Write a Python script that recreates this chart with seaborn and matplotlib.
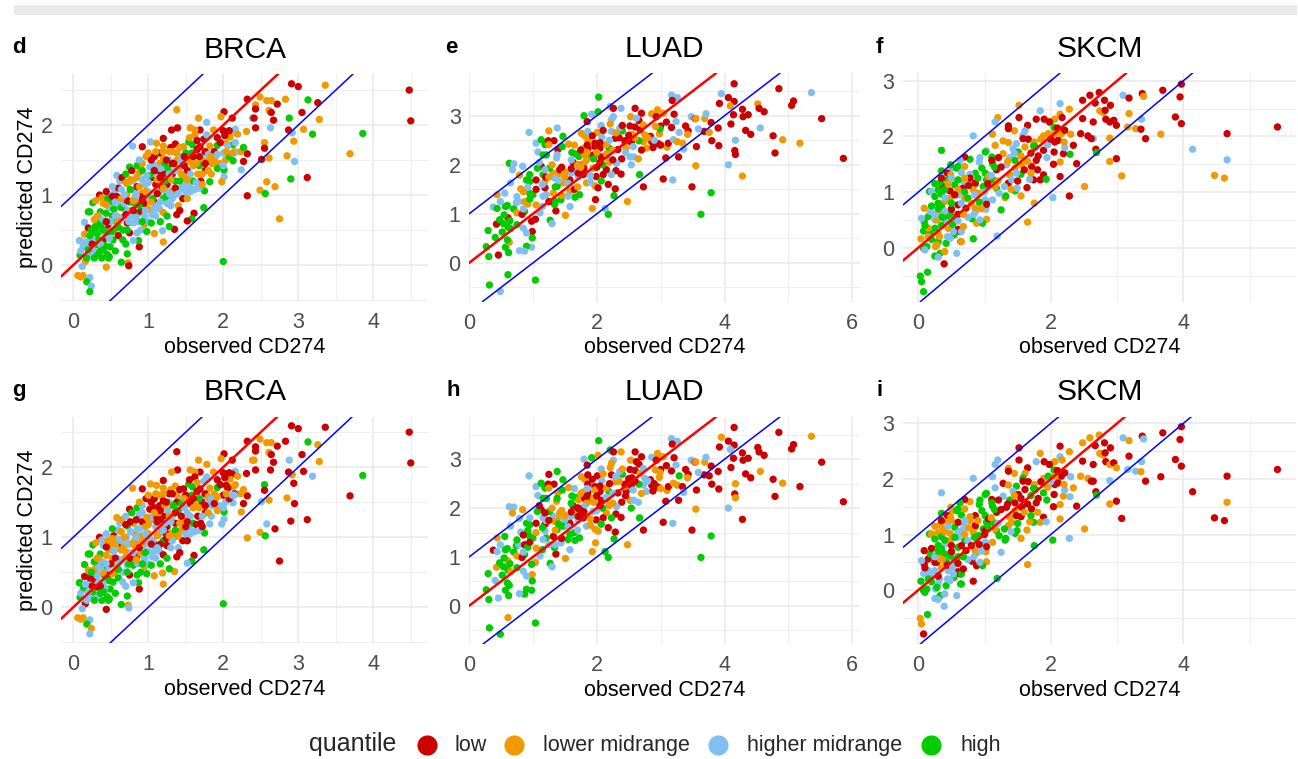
# -*- coding: utf-8 -*-
import matplotlib
matplotlib.use("Agg")
import matplotlib.pyplot as plt
import pandas as pd
import seaborn as sns
from matplotlib.lines import Line2D
from matplotlib.patches import Rectangle

QUANTILES = ["low", "lower midrange", "higher midrange", "high"]
QUANTILE_CODES = {"r": "low", "o": "lower midrange", "b": "higher midrange", "g": "high"}
PALETTE = {"low": "#CC0000", "lower midrange": "#F09A00", "higher midrange": "#80C0F0", "high": "#00CC00"}

# values, top and bottom rows share the samples and differ in colouring
BRCA_OBS = [
    2.91, 3.00, 3.36, 4.48, 4.50, 3.86, 3.69, 3.13, 3.26, 3.28,
    3.05, 3.07, 3.19, 2.92, 2.87, 2.94, 2.95, 2.85, 2.90, 3.12,
    2.88, 2.83, 2.72, 2.64, 2.58, 2.61, 2.64, 2.67, 2.63, 2.49,
    2.32, 2.43, 2.43, 2.39, 2.41, 2.43, 2.31, 2.55, 2.55, 2.51,
    2.61, 2.24, 2.32, 2.27, 2.23, 2.27, 2.58, 2.69, 2.49, 2.56,
    2.32, 2.75, 2.00,
    2.01, 1.97, 2.12, 1.67, 1.78, 1.38, 1.39, 1.31, 1.56, 1.69,
    1.62, 2.16, 2.12, 2.00, 1.87, 1.74, 1.62, 1.78, 1.20, 0.79,
    0.92, 1.03, 1.11, 1.20, 1.36, 1.47, 1.54, 1.59, 1.69, 1.92,
    2.04, 2.13, 2.19, 2.09, 2.15, 2.13, 2.01, 2.01, 1.98, 1.82,
    1.75, 1.74, 1.61, 1.58, 1.52, 1.35, 1.20, 1.08, 1.19, 1.28,
    1.16, 0.88, 0.87, 0.73, 0.74, 0.64, 0.44, 0.72, 0.16, 0.06,
    0.13, 0.10, 0.22, 0.18, 0.24, 0.22, 0.12, 0.09, 0.08, 0.15,
    0.15, 0.20, 0.22, 0.26, 0.35,
    0.20, 0.36, 0.29, 0.33, 0.44, 0.40, 0.27, 0.09, 0.13, 0.20,
    0.31, 0.38, 0.47, 0.27, 0.22, 0.49, 0.53, 0.56, 0.40, 0.46,
    0.57, 0.71, 0.62, 0.51, 0.71, 0.91, 0.33, 0.25, 0.45, 0.36,
    0.42, 0.55, 0.60, 0.66, 0.70, 0.75, 0.80, 0.85, 0.58, 0.48,
    0.38, 0.44, 0.30, 0.54, 0.60, 0.66, 0.75, 0.80, 0.72, 0.65,
    0.52, 0.90, 0.95, 0.98, 0.85, 0.90, 0.95, 1.00, 1.05, 1.10,
    1.15, 1.20, 1.25, 1.08, 1.00, 0.92, 0.82, 0.72, 0.62, 0.58,
    0.65, 0.70, 0.75, 0.80, 0.85, 0.88, 0.92, 0.78, 0.85, 0.92,
    0.97, 1.02, 1.05, 1.10, 1.15, 1.20, 1.25, 1.30, 1.35, 1.40,
    1.42, 1.38, 1.10, 1.15, 1.20, 1.25, 1.30, 1.00, 1.08, 1.16,
    1.22, 1.28, 1.32, 1.36, 1.40, 1.44, 1.46, 1.50, 1.55, 1.48,
    1.52, 1.56, 1.60, 1.62, 1.66, 1.70, 1.58, 1.45, 1.38, 1.30,
    1.42, 1.50, 1.65, 1.72, 1.76, 1.80, 1.85, 1.90, 1.95, 2.03,
    1.92, 2.00, 2.08, 2.15, 1.82, 1.75, 1.68, 1.92, 2.02, 2.06,
    0.10, 0.14, 0.18, 0.22, 0.26, 0.30, 0.34, 0.38, 0.42, 0.46,
    0.50, 0.54, 0.58, 0.62, 0.66, 0.70, 0.74, 0.78, 0.82, 0.86,
    0.34, 0.40, 0.46, 0.52, 0.58, 0.64, 0.70, 0.76, 0.82, 0.88,
    0.94, 1.00, 1.06, 1.12, 1.18, 1.24, 1.30, 1.36, 1.42, 1.48,
    0.96, 1.02, 1.08, 1.14, 1.20, 1.26, 1.32, 1.38, 1.44, 1.50,
    1.52, 1.56, 1.60, 1.64, 1.68, 1.72, 1.76, 1.80, 1.84, 1.88,
    0.84, 0.88, 0.92, 0.98, 1.04, 1.10, 1.16, 1.22, 1.28, 1.34,
    0.28, 0.32, 0.36, 0.40, 0.44, 0.48, 0.52, 0.56, 0.60, 0.64,
    0.68, 0.72, 0.76, 0.80, 0.84, 0.88, 0.92, 0.96, 1.00, 1.04,
    1.08, 1.12, 1.16, 1.20, 1.24, 1.28, 1.32, 1.36, 1.40, 1.44,
    1.48, 1.52, 1.56, 1.60, 1.64, 1.68, 1.72, 1.76, 1.80, 1.84,
    1.88, 1.92, 1.96, 2.00, 2.04, 2.08, 2.12, 2.16, 1.55, 1.65,
    0.16, 0.20, 0.24, 0.28, 0.32, 0.36, 0.40, 0.44, 0.48, 0.52,
    0.56, 0.60, 0.64, 0.68, 0.72, 0.76, 0.80, 0.84, 0.88, 0.92,
    0.96, 1.00, 1.04, 1.08, 1.12, 1.16, 1.20, 1.24, 1.28, 1.32,
]
BRCA_PRED = [
    2.59, 2.55, 2.57, 2.50, 2.06, 1.88, 1.59, 2.36, 2.32, 2.08,
    2.18, 1.94, 1.87, 1.89, 1.93, 1.77, 1.48, 1.56, 1.23, 1.25,
    2.10, 2.37, 2.30, 2.35, 2.35, 2.21, 2.18, 2.07, 1.96, 2.40,
    2.37, 2.29, 2.23, 2.10, 2.10, 1.96, 1.91, 1.75, 1.67, 1.51,
    1.53, 1.36, 1.59, 1.48, 1.62, 1.68, 1.19, 1.12, 1.07, 1.02,
    0.99, 0.66, 0.05,
    2.19, 2.12, 2.10, 2.10, 2.04, 2.22, 1.96, 1.93, 1.96, 1.93,
    1.93, 1.94, 1.90, 1.92, 1.93, 1.80, 1.86, 1.86, 1.81, 1.70,
    1.69, 1.76, 1.74, 1.70, 1.73, 1.69, 1.76, 1.72, 1.69, 1.71,
    1.74, 1.72, 1.87, 1.83, 1.62, 1.49, 1.26, 1.36, 1.19, 1.19,
    1.06, 0.82, 0.74, 0.66, 0.63, 0.51, 0.33, 0.45, 0.49, 0.55,
    0.62, 0.26, 0.35, 0.03, -0.01, 0.04, -0.03, 0.16, 0.05, -0.15,
    -0.15, -0.17, -0.18, -0.24, -0.30, -0.38, -0.02, 0.14, 0.35, 0.61,
    0.44, 0.53, 0.76, 0.89, 1.00,
    0.76, 0.76, 0.55, 0.60, 0.74, 0.64, 0.40, 0.35, 0.26, 0.33,
    0.29, 0.10, 0.10, 0.14, 0.19, 0.26, 0.36, 0.20, 0.36, 0.57,
    0.63, 0.79, 0.83, 0.90, 1.00, 1.02, 0.17, 0.30, 0.15, 0.20,
    0.44, 0.50, 0.42, 0.36, 0.30, 0.46, 0.35, 0.46, 0.70, 0.82,
    0.96, 1.05, 0.92, 1.02, 1.10, 0.97, 0.90, 0.60, 0.60, 0.68,
    0.70, 0.50, 0.58, 0.48, 0.73, 0.77, 0.70, 0.80, 0.72, 0.70,
    0.80, 0.75, 0.70, 0.90, 0.95, 0.98, 1.05, 1.16, 1.20, 1.28,
    1.25, 1.30, 1.40, 1.20, 1.12, 1.32, 1.22, 1.35, 1.42, 1.45,
    1.55, 1.40, 1.25, 1.15, 1.05, 0.95, 0.88, 0.85, 1.00, 0.85,
    0.78, 0.72, 1.30, 1.45, 1.30, 1.15, 1.05, 1.60, 1.55, 1.60,
    1.45, 1.50, 1.30, 1.20, 1.38, 1.10, 0.95, 1.05, 1.12, 1.25,
    1.35, 1.48, 1.20, 1.08, 1.30, 1.20, 1.60, 1.55, 1.60, 1.68,
    1.68, 1.60, 1.65, 1.50, 1.35, 1.50, 1.45, 1.55, 1.45, 1.50,
    1.38, 1.60, 1.55, 1.60, 1.70, 1.60, 1.55, 1.82, 1.85, 1.70,
    0.20, 0.28, 0.10, 0.42, 0.22, 0.48, 0.36, 0.56, 0.28, 0.46,
    0.62, 0.80, 0.55, 0.92, 0.50, 0.72, 0.62, 0.78, 0.88, 0.62,
    0.70, 0.88, 0.95, 1.12, 0.98, 1.08, 1.18, 1.08, 0.96, 0.90,
    0.88, 1.05, 0.95, 1.22, 1.12, 1.05, 1.22, 1.35, 1.20, 1.42,
    1.15, 1.28, 1.42, 1.35, 1.52, 1.38, 1.45, 1.50, 1.48, 1.15,
    0.95, 1.30, 1.42, 1.18, 1.42, 1.30, 1.62, 1.58, 1.30, 1.62,
    1.25, 1.50, 1.35, 1.28, 1.50, 1.62, 1.38, 1.20, 1.62, 1.45,
    0.65, 0.45, 0.30, 0.50, 0.62, 0.38, 0.48, 0.70, 0.62, 0.82,
    0.88, 0.92, 0.70, 0.92, 1.00, 0.85, 0.92, 0.78, 0.62, 0.90,
    0.80, 1.02, 0.90, 1.10, 0.98, 1.30, 0.95, 1.10, 1.02, 1.30,
    1.55, 1.22, 1.05, 1.55, 1.45, 1.10, 1.15, 1.45, 1.35, 1.55,
    1.48, 1.58, 1.75, 1.42, 1.62, 1.92, 1.60, 1.75, 1.82, 1.78,
    0.33, 0.22, 0.50, 0.10, 0.70, 0.56, 0.22, 0.86, 0.12, 0.98,
    0.90, 0.54, 0.95, 1.00, 0.50, 1.22, 0.78, 0.68, 1.12, 0.62,
    1.05, 1.18, 0.60, 1.35, 0.85, 1.25, 1.62, 1.50, 1.02, 1.62,
]
BRCA_Q_TOP = (
    "rrorrgogro" "rogbrobogr" "gorooorrbo" "rorbrroorr" "obrrogooog" "rog"
    "roroborror" "obbrorobrb" "rbooroggrg" "ogooogbgog" "ggrgrroobg" "grgorgogoo" "oobgbgbgbb" "orggr"
    "gggggbbbbb" "gggbbgggrr" "gbbgoogrgg" "borggrbbob" "orobrogbrb" "gboggrbobb" "bogrbrbobb"
    "rggbrobrgo" "obrrbgbbbo" "rrborroorr" "gbrgobrbbo" "rogborgbor" "ogrorooboo" "gbgbobrrrb"
    "bbggbggbgg" "bgobgrbogb" "bogbrbogbo" "rbgorbobgr" "bgbrogrobb" "obobgorbor" "obgbrobgor"
    "ogbgrbgbog" "brbobgrbbo" "brbogbbrbo" "robroboroo" "obrborobor"
    "bgggoggogr" "bgobgorbog" "obgrbrorbo"
)
BRCA_Q_BOTTOM = (
    "rrrrrgrgoo" "rrborrrorr" "brrooorrro" "rrroorrgrb" "oorroobrog" "org"
    "roroorroor" "obrrobrbro" "roooorggrg" "rooorbbgbb" "ggrgboooog" "grgobgrgro" "oobgobbggg" "roggr"
    "ggobobrgbb" "rggbbgggbb" "oobobobrgg" "gogbbrbgbo" "bborbobgbb" "ogogrobbbb" "brgrboogbo"
    "obrobbrggb" "rrobbgrbob" "rrrrrrooro" "obbrgorbbo" "brgbrrgboo" "rrrrrbbobb" "orrbobgrrr"
    "bgbrgobgbr" "rborbogbob" "obogborbbo" "bobrorbrob" "obrorborgr" "rborobrobo" "roboror" "brg"
    "gbrobgorbo" "obrobrogbr" "borbrobgor" "orbrobrrob" "rorborboro"
    "bbggobgrgo" "ogbogrbobg" "bogobroror"
)

LUAD_OBS = [
    4.15, 4.85, 5.36, 3.95, 4.06, 4.15, 3.92, 4.52, 4.09, 5.08,
    5.05, 4.54, 4.62, 4.28, 4.14, 4.37, 4.29, 5.52, 4.10, 4.56,
    4.33, 4.41, 3.90, 3.79, 3.68, 3.76, 4.76, 4.91, 5.18, 3.80,
    3.91, 4.17, 4.16, 4.17, 4.79, 5.86, 4.06, 4.28, 3.55, 3.56,
    3.28, 3.08, 3.04, 3.19, 3.49, 3.79, 3.63, 2.73, 2.67, 2.48,
    2.18, 2.13, 1.93, 1.98, 2.27, 2.29, 2.18, 1.51, 1.58, 1.36,
    1.27, 1.30, 0.99, 0.99, 0.98, 0.90, 0.87, 0.79, 1.04, 0.61,
    0.32, 0.49, 0.46, 0.31, 0.27, 0.41, 0.30, 0.43, 0.62, 0.57,
    0.63, 0.60, 0.61, 0.48, 0.64, 0.54, 0.61, 0.52, 0.38, 0.44,
    0.57, 0.60, 0.49, 0.56, 0.44, 0.65, 0.63, 0.70, 0.68, 0.84,
    0.79, 0.90, 0.95, 0.81, 0.95, 1.00, 0.74, 0.78, 0.87, 0.92,
    0.70, 0.87, 0.75, 0.83, 1.04, 0.98, 0.85, 0.90, 0.94, 1.05,
    1.08, 1.13, 1.19, 1.25, 1.38, 1.24, 1.33, 1.25, 1.39, 1.47,
    1.46, 1.56, 1.37, 1.38, 1.16, 1.21, 1.61, 1.67, 1.72, 1.76,
    1.81, 1.86, 1.80, 1.92, 2.02, 2.03, 2.21, 2.38, 2.26, 2.23,
    2.26, 1.85, 2.07, 2.21, 1.86, 2.01, 1.93, 2.08, 2.40, 2.29,
    2.36, 2.23, 2.60, 2.70, 2.66, 2.53, 2.62, 2.52, 2.60, 2.68,
    2.86, 2.95, 2.95, 3.04, 2.93, 3.21, 3.17, 3.26, 3.18, 3.24,
    3.48, 3.54, 3.55, 3.69, 3.71, 3.59, 3.09, 3.00, 3.17, 3.39,
    3.43, 3.42, 2.98, 2.99, 3.29, 2.84, 2.86, 2.73, 2.92, 2.75,
    2.73, 2.78, 2.96, 2.88, 3.10, 3.12, 3.20, 3.26, 3.34, 3.36,
    2.66, 2.46, 2.44, 2.44, 2.54, 2.57, 2.52, 2.58, 2.54, 2.65,
    2.33, 2.39, 2.30, 2.38, 2.31, 2.23, 2.19, 2.19, 2.15, 2.05,
    1.97, 1.97, 1.86, 1.79, 1.81, 2.07, 2.15, 2.10, 1.99, 2.09,
    1.89, 1.94, 1.84, 1.80, 1.68, 1.60, 1.71, 1.63, 1.71, 1.58,
    1.71, 1.45, 1.50, 1.39, 1.47, 1.32, 1.19, 1.38, 1.44, 1.34,
    1.66, 1.73, 1.21, 1.16, 1.11, 1.32, 1.58, 1.84, 1.97, 1.42,
    1.13, 1.05, 1.19, 1.07, 1.16, 1.26, 0.92, 1.19, 1.34, 1.55,
    2.02, 1.79, 2.07,
    0.75, 0.85, 0.95, 1.05, 1.15, 1.25, 1.35, 1.45, 1.55, 1.65,
    1.10, 1.20, 1.30, 1.40, 1.50, 1.60, 1.70, 1.80, 1.90, 2.00,
    1.65, 1.75, 1.85, 1.95, 2.05, 2.15, 2.25, 2.35, 2.45, 2.55,
    2.10, 2.20, 2.30, 2.40, 2.50, 2.60, 2.70, 2.80, 2.90, 3.00,
    0.55, 0.65, 0.75, 0.85, 0.95, 1.05, 1.15, 1.25, 1.35, 1.45,
    1.75, 1.85, 1.95, 2.05, 2.15, 2.25, 1.60, 1.70, 1.90, 2.00,
]
LUAD_PRED = [
    3.65, 3.55, 3.47, 3.45, 3.37, 3.29, 3.25, 3.24, 3.20, 3.30,
    3.21, 3.15, 3.08, 3.13, 3.02, 3.02, 2.98, 2.94, 2.83, 2.75,
    2.70, 2.62, 2.75, 2.86, 2.68, 2.66, 2.59, 2.51, 2.44, 2.49,
    2.39, 2.50, 2.29, 2.21, 2.24, 2.13, 2.00, 1.77, 1.98, 2.37,
    2.16, 2.14, 1.71, 1.69, 1.55, 1.43, 0.99, 1.55, 1.80, 1.25,
    0.99, 1.11, 1.11, 1.29, 1.37, 1.51, 1.60, 0.97, 1.15, 1.06,
    0.87, 0.80, 0.64, 0.51, 0.32, 0.34, 0.24, 0.25, -0.35, -0.24,
    -0.45, -0.58, 0.16, 0.13, 0.33, 0.52, 0.66, 0.79, 0.21, 0.32,
    0.42, 0.47, 0.92, 0.88, 0.86, 0.80, 0.73, 0.63, 1.14, 1.11,
    1.15, 1.17, 1.25, 1.42, 1.39, 1.63, 2.03, 2.02, 1.90, 1.97,
    1.79, 1.69, 1.66, 1.51, 1.42, 1.39, 1.23, 1.25, 1.25, 1.20,
    1.10, 1.05, 1.02, 0.99, 0.89, 0.85, 0.71, 0.61, 2.66, 2.44,
    2.26, 2.51, 2.41, 2.69, 2.75, 2.49, 2.49, 2.41, 2.31, 2.58,
    2.37, 2.42, 2.14, 2.20, 2.20, 2.20, 2.25, 2.22, 2.17, 2.64,
    2.59, 2.49, 3.00, 3.03, 3.08, 3.38, 3.19, 3.15, 2.98, 2.92,
    3.15, 2.88, 2.80, 2.83, 2.68, 2.66, 2.59, 2.56, 2.69, 2.54,
    2.75, 2.68, 3.15, 3.05, 2.90, 2.98, 2.95, 2.79, 2.77, 2.71,
    3.04, 3.12, 3.02, 3.05, 2.98, 3.03, 3.42, 3.37, 3.31, 2.88,
    2.98, 2.94, 2.94, 2.94, 3.04, 2.73, 2.87, 2.79, 2.76, 2.79,
    2.69, 2.62, 2.63, 2.73, 2.66, 2.58, 2.47, 2.81, 2.78, 2.61,
    2.47, 2.34, 2.43, 2.35, 2.36, 2.44, 2.51, 2.47, 2.44, 2.32,
    2.49, 2.34, 2.44, 2.49, 2.46, 2.37, 2.16, 2.16, 2.00, 2.12,
    2.31, 2.12, 1.88, 1.81, 2.03, 1.80, 2.05, 2.34, 2.41, 2.34,
    2.44, 2.37, 2.32, 2.33, 2.20, 2.16, 1.90, 1.80, 1.76, 2.00,
    2.17, 1.93, 2.10, 2.03, 1.86, 1.83, 1.76, 2.05, 2.00, 1.69,
    1.83, 1.93, 1.76, 1.80, 1.63, 1.83, 1.67, 1.56, 1.29, 1.19,
    1.34, 1.39, 1.39, 1.36, 1.02, 1.42, 1.46, 1.63, 1.57, 1.90,
    1.97, 1.69, 1.53, 1.93, 1.80, 1.93, 1.54, 1.90, 1.73, 1.36,
    1.53, 1.80, 1.67,
    0.78, 1.10, 1.30, 1.18, 1.60, 1.25, 1.55, 1.38, 1.62, 1.50,
    2.05, 1.75, 2.00, 1.68, 1.85, 1.92, 1.55, 1.92, 1.78, 1.95,
    2.40, 2.30, 2.25, 2.20, 2.45, 2.20, 2.30, 2.55, 2.25, 2.62,
    2.70, 2.50, 2.65, 2.80, 2.60, 2.55, 2.30, 2.55, 2.50, 2.40,
    0.98, 0.70, 1.35, 1.45, 1.80, 1.50, 1.15, 1.75, 1.25, 1.95,
    1.95, 2.40, 2.12, 2.05, 2.22, 2.10, 2.10, 2.00, 1.65, 2.25,
]
LUAD_Q_TOP = (
    "rrbbrrroor" "rrrrrrrrrb" "rrrrroroor" "rbrrrrboor" "rrrbrggrgo" "gborgrrobr" "gbrgbgbbgg"
    "gbrggggrgg" "ogrgggggbg" "ggbbobgbbb" "oggoggbboo" "ggorrrbbbb" "bggobrrorg" "gobbgggggo"
    "oogbggbbbb" "rrboborbgr" "bbrrrobrrr" "oooorrbbrb" "broobbrrrr" "roogbrrooo" "oorrorboob"
    "goorrbbbbo" "rrrrbbogor" "rrroorrrrg" "gooobbbrrr" "rooooooggg" "ggbbboooor" "rrrgggbbbb" "rrg"
    "gbgobrgobr" "brobor" "orbr" "ororrrorbo" "rborrorobr" "ggbogrbogr" "orgrorbobo"
)
LUAD_Q_BOTTOM = (
    "rroorrrrbr" "rrrrrrrrro" "rrrrrrrorr" "rororrbror" "rrrbrggrgo" "ggoogrrobr" "gboggggbgo"
    "ggbggbgogg" "ggogggggrb" "ggbgobbboo" "bggbgggbrg" "ggorogbbbb" "bggrgrroog" "googggggoo"
    "orbgoggobo" "rrborrrbgo" "brrrrorrro" "booorrbbrb" "broobbrrrr" "rooogrrbob" "bbrroroorb"
    "grorrbobgb" "rrrrbgogor" "rororrorrg" "gbobobbrrr" "robogbrgbg" "gggbbrgboo" "rrbgbggrog" "org"
    "gbrogborbg" "rbogorbrob" "bororrborr" "orborrobro" "gogrbogrbo" "rborbogror"
)

SKCM_OBS = [
    5.42, 4.66, 4.66, 4.14, 4.47, 4.62, 3.97, 3.95, 3.88, 3.97,
    3.69, 3.38, 3.40, 3.09, 3.18, 3.37, 3.18, 3.16, 3.28, 3.36,
    3.43, 3.66, 3.07, 2.99, 2.89, 2.89, 2.64, 2.68, 2.69, 2.56,
    2.61, 2.48, 2.59, 2.73, 2.67, 2.81, 2.90, 2.74, 2.79, 2.82,
    2.83, 2.89, 2.95, 2.99, 2.48, 2.64, 2.51, 2.28, 2.03, 2.14,
    2.39, 2.29, 2.14, 2.19, 2.05, 2.21, 2.34, 2.04, 1.94, 2.28,
    2.14, 1.84, 1.52, 2.14, 2.06, 1.99, 2.17, 1.98, 1.90, 1.78,
    1.65, 1.52, 1.36, 1.20, 1.16, 2.05, 2.30, 2.16, 2.06, 2.21,
    2.11, 2.06, 1.89, 1.96, 0.83, 1.12, 1.45, 1.61, 1.36, 1.58,
    1.58, 1.66, 1.75, 1.48, 1.43, 1.28, 1.36, 1.16, 0.35, 1.03,
    1.61, 1.76, 1.81, 1.78, 1.71, 1.74, 1.89, 1.89, 1.84, 1.74,
    1.93, 1.68, 1.70, 1.64, 1.75, 1.65, 1.55, 1.19, 0.83, 1.25,
    1.03, 0.88, 0.81, 0.97, 0.93, 1.02, 0.87, 1.12, 1.02, 1.31,
    1.32, 1.46, 1.49, 1.55, 1.36, 1.18, 1.11, 1.12, 1.01, 1.28,
    1.38, 1.21, 1.11, 1.51, 1.46, 1.46, 1.38, 1.56, 1.41, 1.48,
    1.33, 0.92, 0.93, 0.78, 0.70, 0.63, 0.51, 0.49, 0.35, 0.60,
    0.58, 0.44, 0.37, 0.48, 0.49, 0.70, 0.33, 0.44, 0.86, 1.01,
    0.96, 0.55, 0.17, 0.30, 0.35, 0.20, 0.68, 0.65, 0.60, 0.78,
    0.86, 0.78, 1.03, 0.86, 0.68, 0.50, 0.40, 0.48, 0.60, 0.70,
    0.83, 0.86, 0.75, 0.98, 1.01, 1.18, 1.13, 0.91, 1.06, 1.16,
    1.22, 1.01, 1.03, 0.72, 0.60, 0.25, 0.35, 0.44, 0.30, 0.42,
    0.48, 0.15, 0.09, 0.08, 0.18, 0.25, 0.30, 0.08, 0.13, 0.25,
    0.33, 0.42, 0.64, 0.54, 0.03, 0.05, 0.08, 0.14, 0.05, 0.18,
    0.25, 0.10, 0.30, 0.58, 0.39, 0.40, 0.65, 0.04, 0.09, 0.15,
    0.28, 0.31, 0.26, 0.32, 0.50, 0.60, 0.63, 0.44, 0.53, 0.48,
    0.65, 0.68, 0.33, 0.40,
    0.10, 0.15, 0.20, 0.25, 0.30, 0.35, 0.40, 0.45, 0.50, 0.55,
    0.60, 0.65, 0.70, 0.75, 0.80, 0.85, 0.90, 0.95, 1.00, 1.05,
    0.25, 0.30, 0.35, 0.40, 0.45, 0.50, 0.55, 0.60, 0.65, 0.70,
    1.10, 1.15, 1.20, 1.25, 1.30, 1.35, 1.40, 1.45, 1.50, 1.55,
    1.60, 1.65, 1.70, 1.80, 1.85, 1.95, 2.00, 2.10, 2.20, 2.45,
    0.20, 0.28, 0.36, 0.44, 0.52, 0.60, 0.68, 0.76, 0.84, 0.92,
]
SKCM_PRED = [
    2.17, 2.05, 1.58, 1.77, 1.30, 1.25, 2.94, 2.71, 2.35, 2.23,
    2.83, 2.77, 2.72, 2.74, 2.69, 2.31, 2.41, 2.17, 2.14, 2.13,
    1.96, 2.04, 1.29, 1.60, 1.55, 1.97, 1.96, 1.77, 1.71, 2.01,
    1.96, 2.65, 2.74, 2.79, 2.60, 2.65, 2.56, 2.46, 2.43, 2.47,
    2.31, 2.26, 2.29, 2.20, 2.32, 2.26, 1.10, 0.93, 0.90, 1.28,
    1.51, 1.68, 1.54, 1.69, 1.72, 1.80, 1.84, 1.50, 1.62, 2.49,
    2.59, 2.46, 2.56, 2.40, 2.31, 2.26, 2.34, 2.26, 2.31, 2.31,
    2.20, 2.34, 2.19, 2.34, 2.26, 2.16, 2.04, 2.05, 2.05, 2.11,
    1.93, 1.90, 2.01, 2.05, 2.01, 2.04, 2.10, 2.10, 2.14, 2.02,
    1.96, 1.95, 1.90, 1.87, 1.78, 1.92, 1.89, 1.84, 1.75, 1.74,
    1.81, 1.81, 1.65, 1.57, 1.46, 1.83, 1.75, 1.31, 1.22, 1.22,
    1.23, 1.23, 1.34, 1.08, 0.80, 0.46, 0.93, 0.21, 0.16, 0.68,
    0.51, 0.44, 0.52, 0.44, 0.50, 0.69, 0.66, 0.86, 0.84, 0.90,
    0.93, 1.02, 1.07, 1.32, 1.16, 1.40, 1.63, 1.51, 1.72, 1.69,
    1.62, 1.62, 1.57, 1.72, 1.57, 1.43, 1.31, 1.49, 1.22, 1.34,
    1.49, 1.54, 1.62, 1.59, 1.63, 1.57, 1.43, 1.49, 1.38, 1.46,
    1.43, 1.34, 1.11, 1.02, 1.31, 1.46, 1.17, 1.22, 1.34, 1.34,
    1.43, 1.13, 1.01, 1.04, 0.96, 1.01, 1.20, 1.07, 0.95, 1.32,
    1.14, 1.25, 1.22, 1.16, 1.07, 0.69, 0.83, 0.89, 1.04, 0.89,
    1.04, 0.71, 0.89, 1.10, 1.07, 1.07, 1.22, 0.98, 1.28, 1.10,
    0.98, 0.86, 0.78, 0.71, 0.77, 0.92, 0.74, 0.56, 0.80, 0.50,
    0.62, 0.56, 0.47, 0.30, 0.26, 0.35, 0.11, -0.01, 0.02, -0.15,
    -0.10, 0.08, 0.11, 0.23, -0.51, -0.61, -0.79, -0.44, 0.53, 0.65,
    0.50, -0.04, -0.17, -0.10, -0.29, -0.07, 0.11, 0.16, 0.71, 0.35,
    0.50, 0.63, 0.02, 0.20, 0.69, 0.33, 0.29, 0.20, 0.29, 0.17,
    0.29, 0.38, 0.56, 0.65,
    0.40, 0.20, 0.75, 0.60, 0.25, 0.40, 0.90, 0.35, 0.80, 0.55,
    0.60, 0.80, 1.00, 0.55, 0.80, 0.95, 1.25, 0.70, 1.00, 1.15,
    1.15, 0.70, 1.25, 1.05, 1.15, 1.25, 0.95, 1.22, 1.35, 1.25,
    1.30, 1.45, 1.20, 1.45, 1.10, 1.55, 1.05, 1.70, 1.20, 1.65,
    1.40, 1.55, 1.70, 1.40, 1.95, 1.85, 1.95, 2.15, 1.90, 2.05,
    0.15, 0.05, 0.55, 0.45, 0.42, 0.48, 0.60, 1.12, 0.60, 0.82,
]
SKCM_Q_TOP = (
    "rrbboorrrr" "rrobrbooor" "rooroobrgr" "rrrrrrroor" "rrrrrrorbr" "rgorrbrrbo" "bboooorrrr"
    "rrrobgooor" "rrooboobrb" "rrobbooogb" "orrrrgrrrr" "gborooobgg" "ooggbbbbbo" "ggbgrrgggo"
    "brrggooobb" "bbbgrbbggg" "grrroogggg" "gggggbbbbb" "brgrrroooo" "oogggggooo" "bbrrrggggg"
    "gggggggggg" "ggggggggbb" "bbbbrooooo" "oooorrrbbb" "bobb"
    "gogbogbogg" "rbgbobgobr" "ggrgobrgbo" "bgorboobro" "rorrobrror" "gogbgborbg"
)
SKCM_Q_BOTTOM = (
    "rrorrrrrrr" "rrbbobrbbo" "rrrrobrrgo" "rooorrroor" "rororrobgo" "rboorborgo" "rorbooorrb"
    "rrobbgbror" "rrogbboorg" "rrogbrobbg" "rrrrrggrog" "bogogoogrb" "orrgbooobg" "gggrorrggb"
    "grgrrooror" "rggorgoogg" "groooooorg" "gggogobbbo" "oogrbrbobg" "oobgrgggro" "gbrrgggbgg"
    "grrbbbbggb" "ggggoorgbg" "rgbbbbggrb" "robbrrrbbb" "grog"
    "rgrbrogbrg" "grobrgobrg" "ogrobogrgb" "ogbrgrbogr" "orgorobroo" "ggorbrgobr"
)

# panel letter, title, observed, predicted, quantile codes, left/top/right/bottom in pixels, limits, ticks
PANELS = [
    ("d", "BRCA", BRCA_OBS, BRCA_PRED, BRCA_Q_TOP, (61, 74, 428, 301), (-0.164, 4.73), (-0.514, 2.73), (12, 53)),
    ("e", "LUAD", LUAD_OBS, LUAD_PRED, LUAD_Q_TOP, (469, 73, 860, 301.7), (0, 6.12), (-0.79, 3.87), (445, 53)),
    ("f", "SKCM", SKCM_OBS, SKCM_PRED, SKCM_Q_TOP, (902.7, 73, 1296, 301.7), (-0.235, 5.7), (-0.97, 3.14), (876, 53)),
    ("g", "BRCA", BRCA_OBS, BRCA_PRED, BRCA_Q_BOTTOM, (61, 416.7, 428, 643.3), (-0.164, 4.73), (-0.514, 2.72), (12, 396)),
    ("h", "LUAD", LUAD_OBS, LUAD_PRED, LUAD_Q_BOTTOM, (469, 416.7, 860, 644), (0, 6.12), (-0.78, 3.87), (446, 396)),
    ("i", "SKCM", SKCM_OBS, SKCM_PRED, SKCM_Q_BOTTOM, (902.7, 416.7, 1296, 644), (-0.235, 5.7), (-0.97, 3.12), (876, 396)),
]
X_TICKS = {"BRCA": [0, 1, 2, 3, 4], "LUAD": [0, 2, 4, 6], "SKCM": [0, 2, 4]}
X_MINOR = {"BRCA": [0.5, 1.5, 2.5, 3.5, 4.5], "LUAD": [1, 3, 5], "SKCM": [1, 3, 5]}
Y_TICKS = {"BRCA": [0, 1, 2], "LUAD": [0, 1, 2, 3], "SKCM": [0, 1, 2, 3]}
Y_MINOR = {"BRCA": [-0.5, 0.5, 1.5, 2.5], "LUAD": [-0.5, 0.5, 1.5, 2.5, 3.5], "SKCM": [-0.5, 0.5, 1.5, 2.5]}

W, H = 1298, 759


def panel_frame(obs, pred, codes):
    assert len(obs) == len(pred) == len(codes), (len(obs), len(pred), len(codes))
    return pd.DataFrame({"obs": obs, "pred": pred, "quantile": [QUANTILE_CODES[c] for c in codes]})


def draw_panel(fig, letter, title, obs, pred, codes, box, xlim, ylim, letter_pos):
    left, top, right, bottom = box
    ax = fig.add_axes([left / W, 1 - bottom / H, (right - left) / W, (bottom - top) / H])
    sns.scatterplot(
        data=panel_frame(obs, pred, codes),
        x="obs",
        y="pred",
        hue="quantile",
        hue_order=QUANTILES,
        palette=PALETTE,
        s=28,
        linewidth=0,
        legend=False,
        ax=ax,
    )
    ax.axline((0, 0), slope=1, color="#FF0000", linewidth=1.8)
    ax.axline((0, 1), slope=1, color="#0000FF", linewidth=1.1)
    ax.axline((0, -1), slope=1, color="#0000FF", linewidth=1.1)

    ax.set_xlim(*xlim)
    ax.set_ylim(*ylim)
    ax.set_xticks(X_TICKS[title])
    ax.set_xticks(X_MINOR[title], minor=True)
    ax.set_yticks(Y_TICKS[title])
    ax.set_yticks(Y_MINOR[title], minor=True)
    ax.set_axisbelow(True)
    ax.grid(True, which="major", color="#EBEBEB", linewidth=1.2)
    ax.grid(True, which="minor", color="#EFEFEF", linewidth=0.8)
    ax.tick_params(which="both", length=0)
    ax.tick_params(axis="x", which="major", labelsize=15.5, labelcolor="#4D4D4D", pad=8)
    ax.tick_params(axis="y", which="major", labelsize=15.5, labelcolor="#4D4D4D", pad=6)
    for spine in ax.spines.values():
        spine.set_visible(False)

    ax.set_title(title, fontsize=21.5, color="black", pad=11.7)
    ax.set_xlabel("observed CD274", fontsize=15.5, color="black", labelpad=2.5)
    if letter in ("d", "g"):
        ax.set_ylabel("predicted CD274", fontsize=15.5, color="black", labelpad=2)
    else:
        ax.set_ylabel("")
    fig.text(letter_pos[0] / W, 1 - letter_pos[1] / H, letter, fontsize=16, fontweight="bold", color="black")


def draw_legend(fig):
    y = 1 - 745 / H
    baseline = 1 - 751 / H
    fig.text(309 / W, baseline, "quantile", fontsize=18, va="baseline", ha="left")
    dot_x = [427, 514, 718, 931]
    text_x = [454, 543, 747, 960]
    for q, dx, tx in zip(QUANTILES, dot_x, text_x):
        fig.add_artist(
            Line2D([dx / W], [y], marker="o", markersize=14.5, markerfacecolor=PALETTE[q],
                   markeredgewidth=0, linestyle="none", transform=fig.transFigure)
        )
        fig.text(tx / W, baseline, q, fontsize=15.5, va="baseline", ha="left")


def main():
    sns.set_theme(style="white")
    plt.rcParams["font.family"] = ["Liberation Sans", "DejaVu Sans"]
    fig = plt.figure(figsize=(W / 100, H / 100), dpi=100, facecolor="white")
    fig.add_artist(Rectangle((14 / W, 1 - 15 / H), (1297 - 14) / W, 10 / H, transform=fig.transFigure,
                             facecolor="#E9E9E9", edgecolor="none"))
    for letter, title, obs, pred, codes, box, xlim, ylim, letter_pos in PANELS:
        draw_panel(fig, letter, title, obs, pred, codes, box, xlim, ylim, letter_pos)
    draw_legend(fig)
    fig.savefig("out.png", dpi=100)


if __name__ == "__main__":
    main()
